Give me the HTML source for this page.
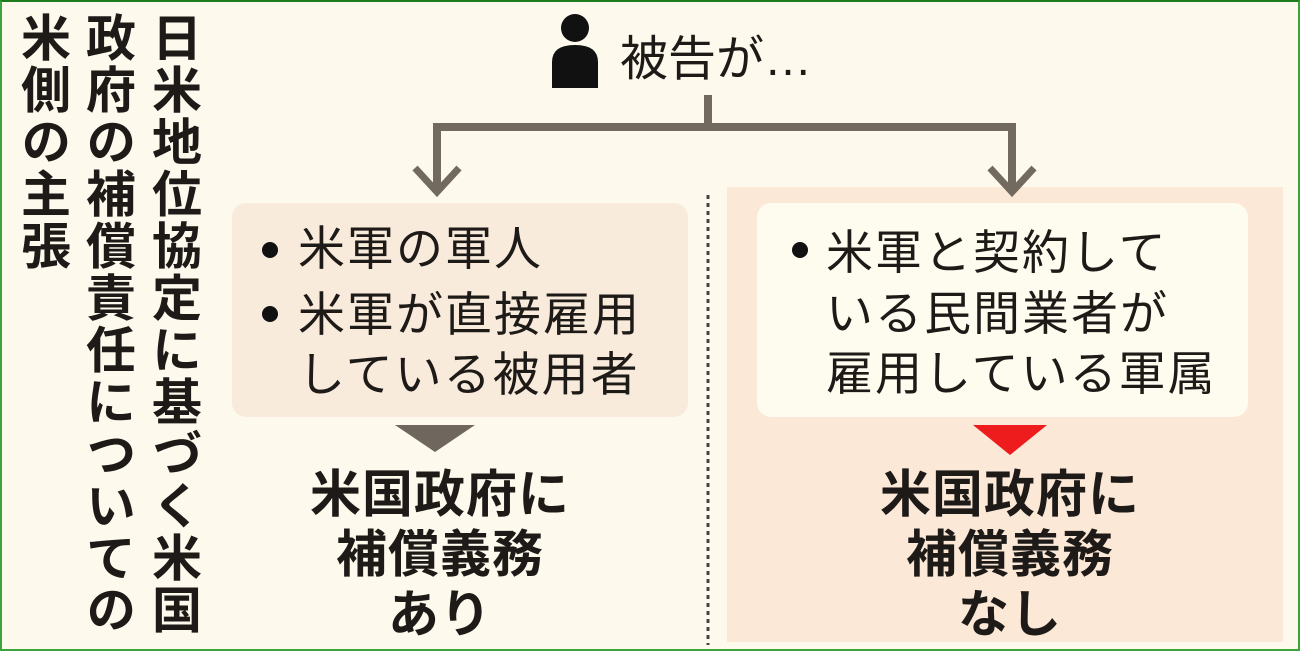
<!DOCTYPE html>
<html><head><meta charset="utf-8"><style>
html,body{margin:0;padding:0}
body{width:1300px;height:651px;position:relative;overflow:hidden;background:#fdf9ec;font-family:"Liberation Sans","Noto Sans CJK JP",sans-serif;color:#1e1a18}
.frame{position:absolute;left:0;top:0;width:1296px;height:647px;border:2px solid #3aa53a;border-top-color:#1d7d1d}
.vt{position:absolute;top:12px;writing-mode:vertical-rl;font-weight:bold;font-size:50px;line-height:60px;letter-spacing:2px}
.abs{position:absolute}
.t{font-size:47px;line-height:62px;white-space:nowrap;letter-spacing:2px}
.dot{position:absolute;font-size:30px;line-height:30px}
.b{font-weight:bold;font-size:51px;line-height:60px;text-align:center;white-space:nowrap;letter-spacing:1px}
</style></head><body>
<div class="frame"></div>
<div class="vt" style="left:143px">日米地位協定に基づく米国</div>
<div class="vt" style="left:77px">政府の補償責任についての</div>
<div class="vt" style="left:12px">米側の主張</div>

<div class="abs" style="left:727px;top:187px;width:556px;height:455px;background:#fbe8d7"></div>
<div class="abs" style="left:232px;top:203px;width:456px;height:214px;background:#f8ebdb;border-radius:14px"></div>
<div class="abs" style="left:757px;top:203px;width:491px;height:214px;background:#fefbef;border-radius:14px"></div>

<svg class="abs" style="left:0;top:0" width="1300" height="651">
  <g fill="#111">
    <circle cx="575" cy="28" r="14"/>
    <path d="M552 88 L552 62 Q552 45 575 45 Q598 45 598 62 L598 88 Z"/>
  </g>
  <g stroke="#736a5f" stroke-width="8" fill="none">
    <path d="M708 95 V127 M433 127 H1013 M437 123 V190 M1012 123 V190"/>
    <path d="M415 168 L437 192 L459 168 M990 168 L1012 192 L1034 168" stroke-width="7"/>
  </g>
  <line x1="708" y1="195" x2="708" y2="645" stroke="#444" stroke-width="3" stroke-dasharray="4 4"/>
  <polygon points="395,425 475,425 435,452" fill="#6f675d"/>
  <polygon points="973,425 1047,425 1010,455" fill="#ee1c1c"/>
  <g fill="#111">
    <circle cx="270" cy="250" r="8"/>
    <circle cx="270" cy="314" r="8"/>
    <circle cx="800" cy="250" r="8"/>
  </g>
</svg>

<div class="abs" style="left:620px;top:32px;font-size:48px;line-height:56px">被告が…</div>

<div class="abs t" style="left:298px;top:218px">米軍の軍人</div>
<div class="abs t" style="left:298px;top:284px">米軍が直接雇用</div>
<div class="abs t" style="left:298px;top:344px">している被用者</div>

<div class="abs t" style="left:826px;top:222px">米軍と契約して</div>
<div class="abs t" style="left:826px;top:283px">いる民間業者が</div>
<div class="abs t" style="left:826px;top:343px">雇用している軍属</div>

<div class="abs b" style="left:290px;top:465px;width:300px">米国政府に<br>補償義務<br>あり</div>
<div class="abs b" style="left:860px;top:465px;width:300px">米国政府に<br>補償義務<br>なし</div>
</body></html>
